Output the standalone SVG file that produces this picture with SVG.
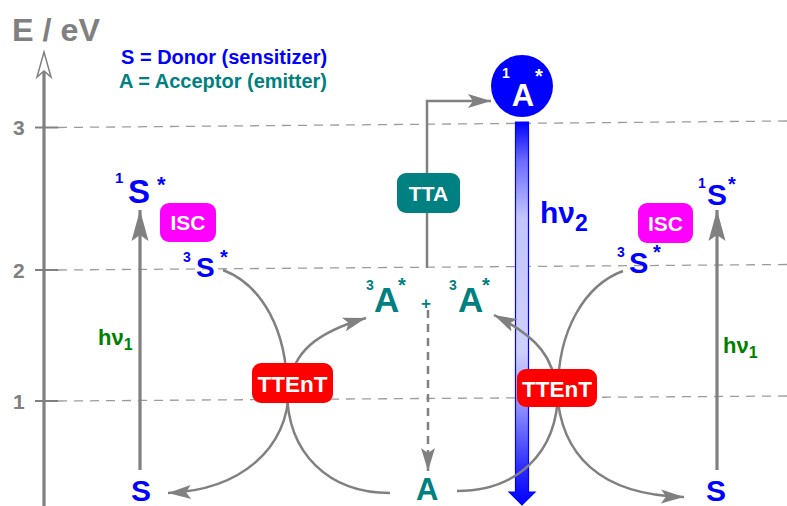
<svg xmlns="http://www.w3.org/2000/svg" width="787" height="506" viewBox="0 0 787 506">
  <style>
    .t{font-family:"Liberation Sans",Arial,sans-serif;font-weight:bold}
    .blue{fill:#0000ff}
    .teal{fill:#008080}
    .green{fill:#008000}
    .gray{fill:#808080}
    .white{fill:#ffffff}
    .grid{stroke:#9c9c9c;stroke-width:1.3;stroke-dasharray:9 7;fill:none}
    .tick{stroke:#808080;stroke-width:2;fill:none}
    .conn{stroke:#808080;stroke-width:2.5;fill:none}
    .vert{stroke:#808080;stroke-width:3.2;fill:none}
  </style>
  <defs>
    <marker id="ah" viewBox="-24 -8 26 16" refX="0" refY="0" markerWidth="26" markerHeight="16" markerUnits="userSpaceOnUse" orient="auto">
      <path d="M0,0 L-23,-7 L-18,0 L-23,7 Z" fill="#808080"/>
    </marker>
    <marker id="ahL" viewBox="-32 -9 34 18" refX="0" refY="0" markerWidth="34" markerHeight="18" markerUnits="userSpaceOnUse" orient="auto">
      <path d="M0,0 L-31,-8.5 L-25,0 L-31,8.5 Z" fill="#808080"/>
    </marker>
    <linearGradient id="emis" x1="0" y1="0" x2="0" y2="1">
      <stop offset="0" stop-color="#0000ff"/>
      <stop offset="0.1" stop-color="#6a6aff"/>
      <stop offset="0.25" stop-color="#c4c4ff"/>
      <stop offset="0.6" stop-color="#cfcfff"/>
      <stop offset="0.75" stop-color="#8c8cff"/>
      <stop offset="0.9" stop-color="#2e2eff"/>
      <stop offset="1" stop-color="#0000ff"/>
    </linearGradient>
  </defs>

  <!-- energy levels -->
  <g id="levels">
    <line class="grid" x1="58" y1="127.5" x2="787" y2="121"/>
    <line class="grid" x1="58" y1="270" x2="787" y2="264.5"/>
    <line class="grid" x1="58" y1="401" x2="787" y2="396"/>
    <line class="tick" x1="35" y1="127.5" x2="58" y2="127.5"/>
    <line class="tick" x1="35" y1="270" x2="58" y2="270"/>
    <line class="tick" x1="35" y1="401" x2="58" y2="401"/>
    <text class="t gray" x="13" y="135" font-size="21">3</text>
    <text class="t gray" x="13" y="277.5" font-size="21">2</text>
    <text class="t gray" x="13" y="408.5" font-size="21">1</text>
  </g>

  <!-- energy axis -->
  <g id="axis">
    <line x1="44" y1="506" x2="44" y2="70" stroke="#808080" stroke-width="3.2"/>
    <path d="M44,52 L51,77 L44,71 L37,77 Z" fill="#ffffff" stroke="#808080" stroke-width="1.5" stroke-linejoin="miter"/>
    <text class="t gray" x="12" y="41" font-size="31" textLength="88" lengthAdjust="spacingAndGlyphs">E / eV</text>
  </g>

  <!-- legend -->
  <g id="legend">
    <text class="t blue" x="121" y="63.5" font-size="20">S = Donor (sensitizer)</text>
    <text class="t teal" x="119" y="88" font-size="20">A = Acceptor (emitter)</text>
  </g>

  <!-- emission hv2 -->
  <g id="emission">
    <path d="M515.5,122 L528.5,122 L528.5,492 L535,492 L522,505 L509,492 L515.5,492 Z" fill="url(#emis)" stroke="#0000ff" stroke-width="1.2"/>
    <text class="t blue" x="540" y="223" font-size="30">hν<tspan font-size="23" dy="8">2</tspan></text>
  </g>

  <!-- connectors -->
  <g id="connectors">
    <!-- excitation of the donor -->
    <line class="vert" x1="140" y1="470" x2="140" y2="210" marker-end="url(#ahL)"/>
    <line class="vert" x1="717" y1="470" x2="717" y2="210" marker-end="url(#ahL)"/>
    <!-- triplet-triplet energy transfer, left -->
    <path class="conn" d="M223,270 C262,285 287,330 287,390 C287,455 330,493 390,493"/>
    <path class="conn" d="M290,388 C291,352 318,332 366,318" marker-end="url(#ah)"/>
    <path class="conn" d="M289,388 C288,450 240,490 168,493" marker-end="url(#ah)"/>
    <!-- triplet-triplet energy transfer, right -->
    <path class="conn" d="M623,271 C585,285 558,330 558,390 C558,455 515,491 457,491"/>
    <path class="conn" d="M556,390 C554,360 540,338 494,315" marker-end="url(#ah)"/>
    <path class="conn" d="M557,390 C560,455 600,495 684,497" marker-end="url(#ah)"/>
    <!-- annihilation to the singlet -->
    <path class="conn" d="M427,268 L427,101 L491,101" marker-end="url(#ah)"/>
    <!-- ground-state return -->
    <line class="conn" x1="428" y1="310" x2="428" y2="471" stroke-dasharray="8 6" marker-end="url(#ah)"/>
    <!-- excitation labels -->
    <text class="t green" x="98" y="345" font-size="22">hν<tspan font-size="16" dy="5">1</tspan></text>
    <text class="t green" x="723" y="353" font-size="22">hν<tspan font-size="16" dy="5">1</tspan></text>
  </g>

  <!-- donor states, left -->
  <g id="S1-left">
    <text class="t blue" x="115" y="183" font-size="15">1</text>
    <text class="t blue" x="128" y="203" font-size="33">S</text>
    <text class="t blue" x="157" y="192" font-size="22">*</text>
  </g>
  <g id="ISC-left">
    <rect x="160" y="203" width="56" height="39" rx="9" fill="#ff00ff"/>
    <text class="t white" x="188" y="230" font-size="21" text-anchor="middle">ISC</text>
  </g>
  <g id="T1-left">
    <text class="t blue" x="183" y="262" font-size="14">3</text>
    <text class="t blue" x="196" y="277" font-size="28">S</text>
    <text class="t blue" x="220" y="264" font-size="20">*</text>
  </g>
  <g id="S0-left">
    <text class="t blue" x="131" y="501" font-size="30">S</text>
  </g>
  <g id="TTEnT-left">
    <rect x="252" y="363" width="81" height="40" rx="9" fill="#ff0000"/>
    <text class="t white" x="292.5" y="392" font-size="22.5" text-anchor="middle">TTEnT</text>
  </g>

  <!-- donor states, right -->
  <g id="S1-right">
    <text class="t blue" x="698" y="188" font-size="14">1</text>
    <text class="t blue" x="707" y="205" font-size="30">S</text>
    <text class="t blue" x="728" y="191" font-size="20">*</text>
  </g>
  <g id="ISC-right">
    <rect x="638" y="203" width="55" height="40" rx="9" fill="#ff00ff"/>
    <text class="t white" x="665.5" y="231" font-size="21" text-anchor="middle">ISC</text>
  </g>
  <g id="T1-right">
    <text class="t blue" x="617" y="257" font-size="14">3</text>
    <text class="t blue" x="629" y="273" font-size="29">S</text>
    <text class="t blue" x="653" y="259" font-size="20">*</text>
  </g>
  <g id="S0-right">
    <text class="t blue" x="706" y="501" font-size="30">S</text>
  </g>
  <g id="TTEnT-right">
    <rect x="517" y="369" width="80" height="38" rx="9" fill="#ff0000"/>
    <text class="t white" x="557" y="397" font-size="22.5" text-anchor="middle">TTEnT</text>
  </g>

  <!-- acceptor states -->
  <g id="T1-pair">
    <text class="t teal" x="366" y="290" font-size="14">3</text>
    <text class="t teal" x="374" y="312" font-size="35">A</text>
    <text class="t teal" x="398" y="292" font-size="20">*</text>
    <text class="t teal" x="421" y="309" font-size="17">+</text>
    <text class="t teal" x="449" y="290" font-size="14">3</text>
    <text class="t teal" x="458" y="312" font-size="35">A</text>
    <text class="t teal" x="482" y="292" font-size="20">*</text>
  </g>
  <g id="TTA">
    <rect x="397" y="173" width="63" height="40" rx="9" fill="#008080"/>
    <text class="t white" x="428.5" y="201" font-size="21" text-anchor="middle">TTA</text>
  </g>
  <g id="S1-acceptor">
    <circle cx="522" cy="86" r="31" fill="#0000ff"/>
    <text class="t white" x="502" y="78" font-size="14">1</text>
    <text class="t white" x="523" y="106" font-size="31" text-anchor="middle">A</text>
    <text class="t white" x="535" y="83" font-size="20">*</text>
  </g>
  <g id="S0-acceptor">
    <text class="t teal" x="416" y="500" font-size="31">A</text>
  </g>
</svg>
